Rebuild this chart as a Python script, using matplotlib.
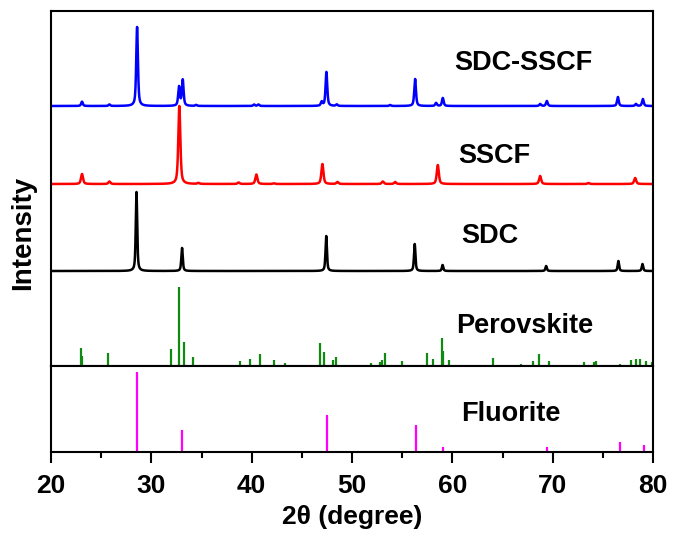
import numpy as np
import matplotlib
matplotlib.use("Agg")
import matplotlib.pyplot as plt

plt.rcParams['font.family'] = ['Liberation Sans', 'DejaVu Sans']
plt.rcParams['font.weight'] = 'bold'

# --- peak lists (2theta in degree, relative intensity) ---
sdc_sscf_pos = [23.09, 25.82, 28.58, 32.76, 33.13, 34.46, 40.24, 40.67, 46.98, 47.45,
                48.48, 53.8, 56.29, 58.38, 59.05, 68.75, 69.42, 76.5, 78.3, 78.99]
sdc_sscf_int = [4.3, 1.5, 79, 19, 26, 1, 1.5, 1.5, 4, 34,
                1.5, 1, 27, 3, 8, 2, 5, 9, 2, 7]

sscf_pos = [23.09, 25.82, 32.79, 34.69, 38.7, 40.47, 42.2, 47.05, 48.55, 53.07,
            54.3, 58.55, 68.75, 73.57, 78.22]
sscf_int = [10, 2.5, 78, 1, 1.5, 9.5, 0.7, 20, 2, 2.5,
            2, 19, 8, 1, 6]

sdc_pos = [28.52, 33.06, 47.43, 56.25, 59.03, 69.35, 76.55, 78.95]
sdc_int = [79, 23, 35, 27, 6, 5, 10, 7]

perov_pos = [22.96, 23.12, 25.71, 31.96, 32.80, 33.23, 34.12, 38.84, 39.84, 40.87,
             42.20, 43.36, 44.06, 46.79, 47.19, 48.12, 48.38, 51.87, 52.80, 53.00,
             53.30, 54.96, 57.46, 58.12, 58.95, 59.11, 59.71, 64.10, 66.89, 68.06,
             68.62, 69.68, 73.17, 74.07, 74.30, 76.73, 77.83, 78.30, 78.72, 79.32,
             79.89]
perov_int = [18, 10, 13, 17, 79, 24, 9, 5, 7, 12,
             6, 3, 1.5, 23, 14, 6, 9, 3, 4, 6,
             13, 5, 13, 7, 28, 15, 6, 8, 2, 5,
             12, 5, 4, 4, 5, 2, 6, 7, 7, 5,
             4]

fluor_pos = [28.55, 33.08, 47.48, 56.34, 59.09, 69.42, 76.70, 79.07]
fluor_int = [80, 22, 37, 27, 5, 5, 10, 7]

labels = ['SDC-SSCF', 'SSCF', 'SDC', 'Perovskite', 'Fluorite']


def pattern(x, pos, inten, fwhm, eta=0.6):
    y = np.zeros_like(x)
    for p, h in zip(pos, inten):
        lor = 1.0 / (1.0 + ((x - p) / (fwhm / 2)) ** 2)
        gau = np.exp(-4 * np.log(2) * ((x - p) / fwhm) ** 2)
        y += h * (eta * lor + (1 - eta) * gau)
    return y


x = np.linspace(20, 80, 6001)

fig = plt.figure(figsize=(6.81, 5.33), dpi=100)
gs = fig.add_gridspec(2, 1, height_ratios=[355, 86], hspace=0,
                      left=51 / 681, right=653 / 681, bottom=81 / 533, top=522 / 533)
ax = fig.add_subplot(gs[0])
ax2 = fig.add_subplot(gs[1], sharex=ax)

# upper panel: measured patterns stacked + perovskite reference
ax.plot(x, 260 + pattern(x, sdc_sscf_pos, sdc_sscf_int, 0.2), color='#0000ff', lw=1.8)
ax.plot(x, 182 + pattern(x, sscf_pos, sscf_int, 0.24), color='#ff0000', lw=1.8)
ax.plot(x, 95 + pattern(x, sdc_pos, sdc_int, 0.17), color='black', lw=1.8)
ax.vlines(perov_pos, 0, perov_int, color='#118a11', lw=1.6)
ax.set_ylim(0, 355)

# lower panel: fluorite reference
ax2.vlines(fluor_pos, 0, fluor_int, color='#ff00ff', lw=1.6)
ax2.set_ylim(0, 86)
ax2.set_xlim(20, 80)

txt = dict(fontsize=19.5, fontweight='bold', ha='left', va='center')
ax.text(60.2, 303, labels[0], **txt)
ax.text(60.6, 210, labels[1], **txt)
ax.text(60.9, 130, labels[2], **txt)
ax.text(60.4, 40, labels[3], **txt)
ax2.text(60.9, 38, labels[4], **txt)

for a in (ax, ax2):
    for s in a.spines.values():
        s.set_linewidth(1.5)
    a.set_yticks([])
ax.tick_params(axis='x', bottom=False, labelbottom=False)
ax2.set_xticks(np.arange(20, 81, 10))
ax2.set_xticks(np.arange(25, 80, 10), minor=True)
ax2.tick_params(axis='x', which='major', direction='out', length=8, width=1.5,
                labelsize=19, pad=8)
ax2.tick_params(axis='x', which='minor', direction='out', length=4.5, width=1.5)
for lb in ax2.get_xticklabels():
    lb.set_fontweight('bold')

ax2.set_xlabel('2θ (degree)', fontsize=19, fontweight='bold', labelpad=5)
fig.text(23 / 681, (533 - 233) / 533, 'Intensity', rotation=90,
         fontsize=20, fontweight='bold', ha='center', va='center')

fig.savefig('out.png', dpi=100)
